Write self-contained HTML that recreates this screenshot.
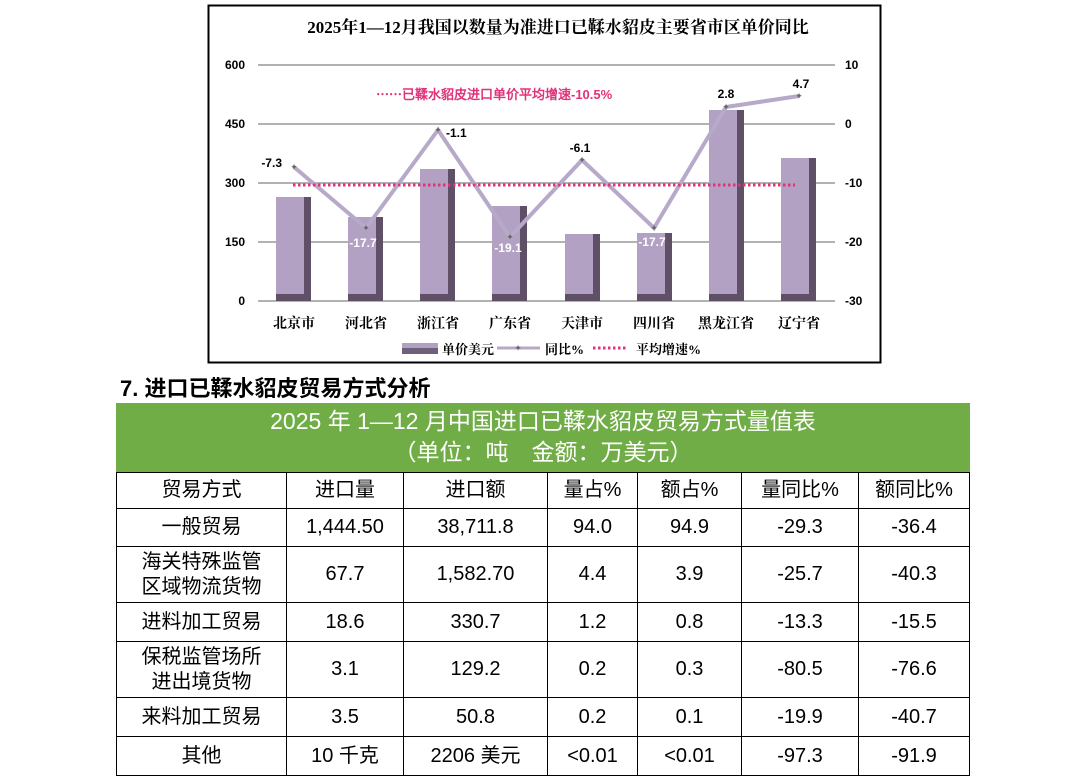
<!DOCTYPE html>
<html><head><meta charset="utf-8"><style>
body{margin:0;width:1087px;height:780px;background:#fff;position:relative;overflow:hidden;font-family:"Liberation Sans","Noto Sans CJK SC",sans-serif}
#h{position:absolute;left:120px;top:371px;font-size:22px;font-weight:bold;color:#000}
#g{position:absolute;left:116px;top:403px;width:854px;height:69px;background:#70ad47;color:#fff;text-align:center;font-size:23px;line-height:31px;padding-top:3px;box-sizing:border-box;font-family:"Liberation Sans Narrow","Liberation Sans","Noto Sans CJK SC",sans-serif}
table{position:absolute;left:116px;top:472px;border-collapse:collapse;font-size:20px;font-family:"Liberation Sans Narrow","Liberation Sans","Noto Sans CJK SC",sans-serif}
td{border:1.5px solid #000;text-align:center;padding:0;line-height:25px}
</style></head><body>
<svg width="1087" height="370" style="position:absolute;left:0;top:0" font-family="Liberation Serif,Noto Serif CJK SC,serif">
<rect x="208.5" y="5.5" width="672" height="357" fill="#fff" stroke="#000" stroke-width="2"/>
<text x="558" y="33" font-size="17" font-weight="bold" text-anchor="middle">2025年1—12月我国以数量为准进口已鞣水貂皮主要省市区单价同比</text>
<g stroke="#999" stroke-width="1.5">
<line x1="258" y1="65" x2="835" y2="65"/><line x1="258" y1="124" x2="835" y2="124"/><line x1="258" y1="183" x2="835" y2="183"/><line x1="258" y1="242" x2="835" y2="242"/><line x1="258" y1="301" x2="835" y2="301"/></g>
<g font-size="12" font-weight="bold" font-family="Liberation Sans,sans-serif">
<text x="245" y="69" text-anchor="end">600</text><text x="245" y="128" text-anchor="end">450</text><text x="245" y="187" text-anchor="end">300</text><text x="245" y="246" text-anchor="end">150</text><text x="245" y="305" text-anchor="end">0</text>
<text x="845" y="69">10</text><text x="845" y="128">0</text><text x="845" y="187">-10</text><text x="845" y="246">-20</text><text x="845" y="305">-30</text></g>
<g>
<rect x="276" y="197" width="35" height="104" fill="#5f5068"/><rect x="276" y="197" width="28" height="97" fill="#b2a1c3"/>
<rect x="348" y="217" width="35" height="84" fill="#5f5068"/><rect x="348" y="217" width="28" height="77" fill="#b2a1c3"/>
<rect x="420" y="169" width="35" height="132" fill="#5f5068"/><rect x="420" y="169" width="28" height="125" fill="#b2a1c3"/>
<rect x="492" y="206" width="35" height="95" fill="#5f5068"/><rect x="492" y="206" width="28" height="88" fill="#b2a1c3"/>
<rect x="565" y="234" width="35" height="67" fill="#5f5068"/><rect x="565" y="234" width="28" height="60" fill="#b2a1c3"/>
<rect x="637" y="233" width="35" height="68" fill="#5f5068"/><rect x="637" y="233" width="28" height="61" fill="#b2a1c3"/>
<rect x="709" y="110" width="35" height="191" fill="#5f5068"/><rect x="709" y="110" width="28" height="184" fill="#b2a1c3"/>
<rect x="781" y="158" width="35" height="143" fill="#5f5068"/><rect x="781" y="158" width="28" height="136" fill="#b2a1c3"/>
</g>
<polyline points="294,167 366,228 438,130 510,237 582,160 654,228 726,107 799,96" fill="none" stroke="#b7a9c9" stroke-width="4"/>
<g fill="#666" font-size="9" text-anchor="middle" font-family="DejaVu Sans,sans-serif">
<text x="294" y="170">✦</text><text x="366" y="231">✦</text><text x="438" y="133">✦</text><text x="510" y="240">✦</text><text x="582" y="163">✦</text><text x="654" y="231">✦</text><text x="726" y="110">✦</text><text x="799" y="99">✦</text></g>
<line x1="293" y1="185" x2="795" y2="185" stroke="#e0337a" stroke-width="3" stroke-dasharray="2.5,2.5"/>
<g font-size="12" font-weight="bold" font-family="Liberation Sans,sans-serif">
<text x="282" y="167" text-anchor="end">-7.3</text><text x="363" y="247" text-anchor="middle" fill="#fff">-17.7</text>
<text x="446" y="137">-1.1</text><text x="508" y="252" text-anchor="middle" fill="#fff">-19.1</text>
<text x="580" y="152" text-anchor="middle">-6.1</text><text x="652" y="246" text-anchor="middle" fill="#fff">-17.7</text>
<text x="726" y="98" text-anchor="middle">2.8</text><text x="801" y="88" text-anchor="middle">4.7</text>
<text x="376" y="99" fill="#e0337a" font-size="13">⋯⋯已鞣水貂皮进口单价平均增速-10.5%</text></g>
<g font-size="14" font-weight="bold" text-anchor="middle">
<text x="294" y="328">北京市</text><text x="366" y="328">河北省</text><text x="438" y="328">浙江省</text><text x="510" y="328">广东省</text><text x="582" y="328">天津市</text><text x="654" y="328">四川省</text><text x="726" y="328">黑龙江省</text><text x="799" y="328">辽宁省</text></g>
<rect x="402" y="343" width="36" height="11" fill="#6e607a"/><rect x="402" y="343" width="36" height="5" fill="#b2a1c3"/>
<text x="442" y="354" font-size="13" font-weight="bold">单价美元</text>
<line x1="497" y1="348" x2="540" y2="348" stroke="#b7a9c9" stroke-width="3"/><text x="518" y="351" font-size="9" fill="#666" text-anchor="middle">✦</text>
<text x="545" y="354" font-size="13" font-weight="bold">同比%</text>
<line x1="593" y1="348" x2="628" y2="348" stroke="#e0337a" stroke-width="3" stroke-dasharray="2.5,2.5"/>
<text x="636" y="354" font-size="13" font-weight="bold">平均增速%</text>
</svg>
<div id="h">7. 进口已鞣水貂皮贸易方式分析</div>
<div id="g">2025 年 1—12 月中国进口已鞣水貂皮贸易方式量值表<br>（单位：吨　金额：万美元）</div>
<table>
<colgroup><col style="width:170px"><col style="width:117px"><col style="width:144px"><col style="width:90px"><col style="width:104px"><col style="width:117px"><col style="width:111px"></colgroup>
<tr style="height:36px"><td>贸易方式</td><td>进口量</td><td>进口额</td><td>量占%</td><td>额占%</td><td>量同比%</td><td>额同比%</td></tr>
<tr style="height:38px"><td>一般贸易</td><td>1,444.50</td><td>38,711.8</td><td>94.0</td><td>94.9</td><td>-29.3</td><td>-36.4</td></tr>
<tr style="height:56px"><td>海关特殊监管<br>区域物流货物</td><td>67.7</td><td>1,582.70</td><td>4.4</td><td>3.9</td><td>-25.7</td><td>-40.3</td></tr>
<tr style="height:39px"><td>进料加工贸易</td><td>18.6</td><td>330.7</td><td>1.2</td><td>0.8</td><td>-13.3</td><td>-15.5</td></tr>
<tr style="height:56px"><td>保税监管场所<br>进出境货物</td><td>3.1</td><td>129.2</td><td>0.2</td><td>0.3</td><td>-80.5</td><td>-76.6</td></tr>
<tr style="height:39px"><td>来料加工贸易</td><td>3.5</td><td>50.8</td><td>0.2</td><td>0.1</td><td>-19.9</td><td>-40.7</td></tr>
<tr style="height:39px"><td>其他</td><td>10 千克</td><td>2206 美元</td><td>&lt;0.01</td><td>&lt;0.01</td><td>-97.3</td><td>-91.9</td></tr>
</table>
</body></html>
